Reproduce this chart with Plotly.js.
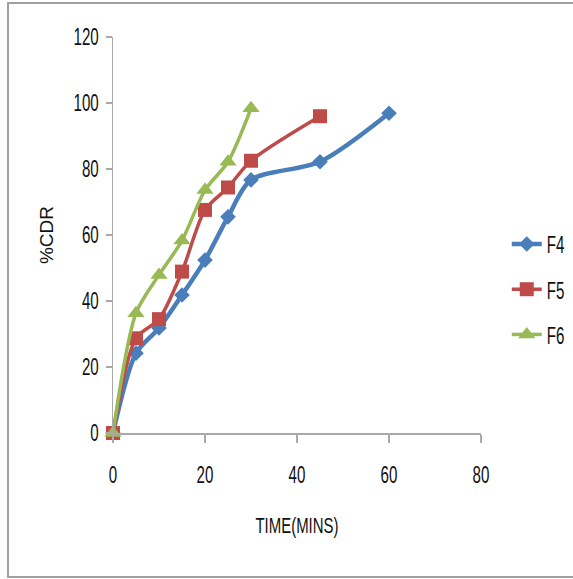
<!DOCTYPE html>
<html>
<head>
<meta charset="utf-8">
<script src="https://cdn.plot.ly/plotly-3.0.1.min.js"></script>
<style>
html,body{margin:0;padding:0;background:#fff;overflow:hidden;}
#frame{position:absolute;left:7px;top:2px;width:580px;height:576px;border:2px solid #a0a0a0;box-sizing:border-box;}
#chart{position:absolute;left:0;top:0;width:573px;height:579px;}
</style>
</head>
<body>
<div id="frame"></div>
<div id="chart"></div>
<script>
var time = [0, 5, 10, 15, 20, 25, 30, 45, 60];
var f4 = [0, 24.2, 31.8, 41.8, 52.4, 65.5, 76.7, 82.2, 96.9];
var timeF5 = [0, 5, 10, 15, 20, 25, 30, 45];
var f5 = [0, 28.7, 34.5, 48.9, 67.6, 74.4, 82.5, 96];
var timeF6 = [0, 5, 10, 15, 20, 25, 30];
var f6 = [0, 36.3, 47.9, 58.3, 73.6, 82.2, 98.4];
var names = ['F4', 'F5', 'F6'];
var colors = ['#4A7EBB', '#BE4B48', '#98B954'];
var xTicks = [0, 20, 40, 60, 80];
var yTicks = [0, 20, 40, 60, 80, 100, 120];

var font = 'Liberation Sans, Arial, sans-serif';
function tr(x, y, i, sym, size, lw) {
  return {
    x: x, y: y, name: names[i], type: 'scatter', mode: 'lines+markers',
    legendgroup: names[i], cliponaxis: false,
    line: {color: colors[i], width: lw, shape: 'spline', smoothing: 0.8},
    marker: {color: colors[i], symbol: sym, size: size}
  };
}
var data = [
  tr(time, f4, 0, 'diamond', 12, 4.5),
  tr(timeF5, f5, 1, 'square', 14, 3.5),
  tr(timeF6, f6, 2, 'triangle-up', 15, 3.5)
];
var layout = {
  width: 573, height: 579,
  margin: {l: 113, r: 92, t: 37, b: 146, autoexpand: false},
  paper_bgcolor: 'rgba(0,0,0,0)', plot_bgcolor: 'rgba(0,0,0,0)',
  showlegend: true,
  font: {family: font, size: 24, color: '#111'},
  xaxis: {
    range: [0, 80], tickvals: xTicks, showgrid: false, zeroline: false,
    showline: true, linecolor: '#a9a9a9', linewidth: 1.5,
    ticks: 'outside', ticklen: 8, tickcolor: '#a9a9a9', tickwidth: 1.5,
    ticklabelstandoff: 12,
    tickfont: {family: font, size: 24, color: '#111'},
    title: {text: 'TIME(MINS)', font: {family: font, size: 22, color: '#111'}, standoff: 30},
    automargin: false
  },
  yaxis: {
    range: [0, 120], tickvals: yTicks, showgrid: false, zeroline: false,
    showline: true, linecolor: '#a9a9a9', linewidth: 1.5,
    ticks: 'outside', ticklen: 6, tickcolor: '#a9a9a9', tickwidth: 1.5,
    ticklabelstandoff: 2,
    tickfont: {family: font, size: 24, color: '#111'},
    title: {text: '%CDR', font: {family: font, size: 19, color: '#111'}, standoff: 0},
    automargin: false
  },
  legend: {
    x: 1.07, xanchor: 'left', y: 0.533, yanchor: 'top',
    traceorder: 'grouped', tracegroupgap: 11,
    font: {family: font, size: 24, color: '#111'},
    bgcolor: 'rgba(0,0,0,0)', itemwidth: 30
  }
};
Plotly.newPlot('chart', data, layout, {displayModeBar: false, staticPlot: true}).then(function(gd){
  // condensed look of the original labels: squeeze text horizontally around its anchor
  function squeeze(sel, k) {
    gd.querySelectorAll(sel).forEach(function(t){
      var ax = parseFloat(t.getAttribute('x')) || 0;
      var tf = t.getAttribute('transform') || '';
      t.setAttribute('transform', tf + ' translate(' + ax + ',0) scale(' + k + ',1) translate(' + (-ax) + ',0)');
    });
  }
  squeeze('.xtick text', 0.63);
  squeeze('.ytick text', 0.63);
  squeeze('.legendtext', 0.63);
  squeeze('.g-xtitle text', 0.68);
});
</script>
</body>
</html>
